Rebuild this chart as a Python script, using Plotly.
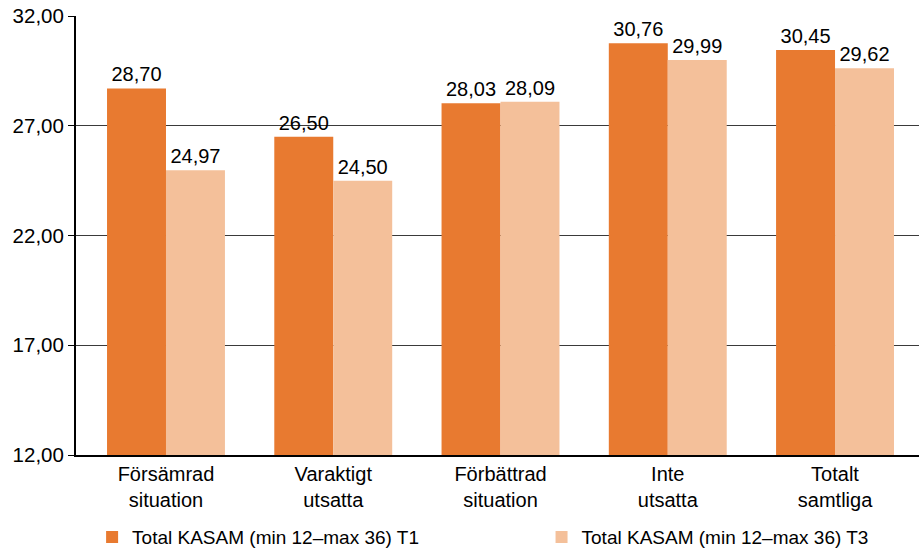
import plotly.graph_objects as go

# Data
categories = ["Försämrad<br>situation", "Varaktigt<br>utsatta", "Förbättrad<br>situation",
              "Inte<br>utsatta", "Totalt<br>samtliga"]
t1_values = [28.70, 26.50, 28.03, 30.76, 30.45]
t3_values = [24.97, 24.50, 28.09, 29.99, 29.62]
t1_name = "Total KASAM (min 12–max 36) T1"
t3_name = "Total KASAM (min 12–max 36) T3"

FONT = "Liberation Sans, Arial, sans-serif"

fig = go.Figure()

fig.add_trace(go.Bar(x=list(range(len(categories))), y=t1_values, name=t1_name,
                     marker=dict(color="#E87A30", line=dict(width=0)),
                     texttemplate="%{y:.2f}", textposition="outside",
                     textfont=dict(family=FONT, size=20, color="black"),
                     cliponaxis=False, legend="legend"))

fig.add_trace(go.Bar(x=list(range(len(categories))), y=t3_values, name=t3_name,
                     marker=dict(color="#F4C09A", line=dict(width=0)),
                     texttemplate="%{y:.2f}", textposition="outside",
                     textfont=dict(family=FONT, size=20, color="black"),
                     cliponaxis=False, legend="legend2"))

legend_style = dict(
    orientation="h",
    xref="container", yref="container",
    y=0.025, xanchor="left", yanchor="middle",
    font=dict(family=FONT, size=19, color="black"),
    bgcolor="rgba(0,0,0,0)",
)

fig.update_layout(
    width=921, height=551,
    margin=dict(l=76, r=2, t=16, b=96),
    paper_bgcolor="white",
    plot_bgcolor="white",
    separators=", ",
    barmode="group",
    bargap=0.295,
    bargroupgap=0,
    font=dict(family=FONT, size=18, color="black"),
    showlegend=True,
    legend=dict(legend_style, x=0.1),
    legend2=dict(legend_style, x=0.588),
    xaxis=dict(
        tickmode="array",
        tickvals=list(range(len(categories))),
        ticktext=categories,
        range=[-0.538, 4.502],
        showgrid=False,
        zeroline=False,
        showline=True,
        linecolor="black",
        linewidth=2,
        ticks="",
        automargin=False,
        tickfont=dict(family=FONT, size=20, color="black"),
    ),
    yaxis=dict(
        range=[12, 32],
        dtick=5,
        tick0=12,
        tickformat=".2f",
        showgrid=True,
        gridcolor="#3a3a3a",
        gridwidth=1,
        zeroline=False,
        showline=True,
        linecolor="black",
        linewidth=2,
        ticks="outside",
        ticklen=6,
        tickcolor="black",
        automargin=False,
        tickfont=dict(family=FONT, size=20.5, color="black"),
    ),
)

# drop the browser's default 8px body margin so the figure fills the window
fig.write_html("out.html", config={"displayModeBar": False},
               post_script="document.body.style.margin = '0';")
